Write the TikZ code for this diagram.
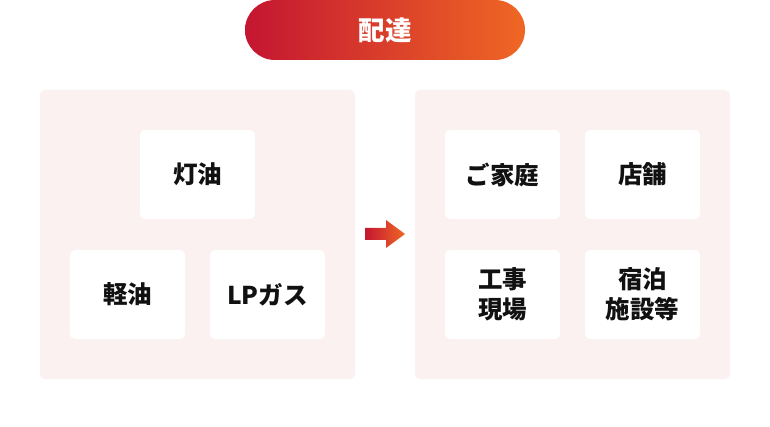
\documentclass[tikz,border=0pt]{standalone}
\usepackage{fontspec}
\setmainfont{Noto Sans CJK JP}
\definecolor{gradL}{HTML}{C41631}
\definecolor{gradR}{HTML}{EF6724}
\definecolor{panel}{HTML}{FAF1F0}
\definecolor{ink}{HTML}{111111}
\begin{document}
\begin{tikzpicture}[x=1pt,y=-1pt,
  panelbox/.style={fill=panel, rounded corners=5pt},
  itembox/.style={fill=white, rounded corners=5pt, minimum width=115pt, minimum height=89pt, inner sep=0pt,
     font=\bfseries\fontsize{24.5}{30}\selectfont, text=ink, align=center, anchor=center},
]
\useasboundingbox (0,0) rectangle (770,427);
% pill
\node[rounded corners=30pt, left color=gradL, right color=gradR, minimum width=280pt, minimum height=60pt,
      inner sep=0pt, text=white, font=\bfseries\fontsize{26.5}{30}\selectfont] (pill) at (385,30) {配達};
% panels
\node[panelbox, minimum width=315pt, minimum height=289pt, inner sep=0pt] (left) at (197.5,234.5) {};
\node[panelbox, minimum width=315pt, minimum height=289pt, inner sep=0pt] (right) at (572.5,234.5) {};
% left items
\node[itembox] (toyu) at (197.5,174.5) {灯油};
\node[itembox] (keiyu) at (127.5,294.5) {軽油};
\node[itembox] (lpg) at (267.5,294.5) {LPガス};
% right items
\node[itembox] (home) at (502.5,174.5) {ご家庭};
\node[itembox] (shop) at (642.5,174.5) {店舗};
\node[itembox] (site) at (502.5,294.5) {工事\\現場};
\node[itembox] (hotel) at (642.5,294.5) {宿泊\\施設等};
% arrow
\shade[left color=gradL, right color=gradR]
  (365,228) -- (386,228) -- (386,220) -- (405,234) -- (386,248) -- (386,240) -- (365,240) -- cycle;
\end{tikzpicture}
\end{document}
